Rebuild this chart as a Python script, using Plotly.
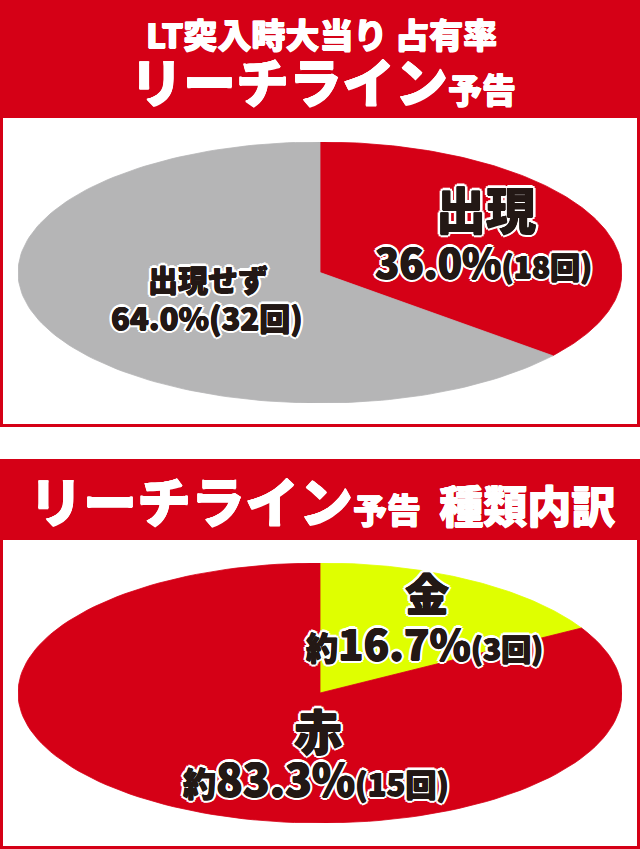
import numpy as np
import plotly.graph_objects as go

W, H = 640, 849
RED = "#D50016"
GREY = "#B5B5B6"
GOLD = "#DFFF00"
INK = "#231815"
FONT = "Noto Sans CJK JP"

# data
reach_labels = ["出現", "出現せず"]
reach_counts = [18, 32]
reach_pcts = ["36.0%", "64.0%"]
type_labels = ["金", "赤"]
type_counts = [3, 15]
type_pcts = ["16.7%", "83.3%"]


def heavy(color, outline=None):
    # fake a black weight with tiny same-colour shadows, then an optional outline
    s = [f"{dx}px {dy}px 0 {color}" for dx, dy in [(0.6, 0), (-0.6, 0), (0, 0.5), (0, -0.5)]]
    if outline:
        s += [f"{dx}px {dy}px 0 {outline}"
              for dx, dy in [(3, 0), (-3, 0), (0, 3), (0, -3), (2, 2), (-2, -2), (2, -2), (-2, 2)]]
    return ", ".join(s)


def pie_traces(counts, colors, xa, ya):
    # slices clockwise from 12 o'clock on a unit circle; axis domains squash it into an ellipse
    fr = np.cumsum([0] + counts) / sum(counts)
    out = []
    for i, c in enumerate(colors):
        t = 2 * np.pi * np.linspace(fr[i], fr[i + 1], 150)
        x = np.concatenate([[0], np.sin(t), [0]])
        y = np.concatenate([[0], np.cos(t), [0]])
        out.append(
            go.Scatter(
                x=x, y=y, mode="lines", fill="toself", fillcolor=c,
                line=dict(width=0.8, color=c), hoverinfo="skip",
                xaxis=xa, yaxis=ya, showlegend=False,
            )
        )
    return out


def label(x, y, text, size, color=INK, shadow=None):
    return dict(
        x=x / W, y=1 - y / H, xref="paper", yref="paper", text=text,
        showarrow=False, xanchor="center", yanchor="middle",
        font=dict(family=FONT, size=size, color=color, weight=900,
                  shadow=shadow or heavy(INK, "#fff")),
    )


def span(text, size):
    return f'<span style="font-size:{size}px">{text}</span>'


def box(y0, y1, y_head, b=3):
    return [
        dict(type="rect", xref="paper", yref="paper", x0=0, x1=1,
             y0=1 - y1 / H, y1=1 - y0 / H, fillcolor=RED, line_width=0, layer="below"),
        dict(type="rect", xref="paper", yref="paper", x0=b / W, x1=1 - b / W,
             y0=1 - (y1 - b) / H, y1=1 - y_head / H, fillcolor="white", line_width=0, layer="below"),
    ]


fig = go.Figure(
    data=pie_traces(reach_counts, [RED, GREY], "x", "y")
    + pie_traces(type_counts, [GOLD, RED], "x2", "y2")
)

WHITE = heavy("#fff")
ax = dict(range=[-1, 1], visible=False, fixedrange=True)
fig.update_layout(
    width=W, height=H,
    margin=dict(l=0, r=0, t=0, b=0),
    paper_bgcolor="white", plot_bgcolor="rgba(0,0,0,0)",
    xaxis=dict(domain=[18 / W, 622 / W], **ax),
    yaxis=dict(domain=[1 - 403 / H, 1 - 142 / H], **ax),
    xaxis2=dict(domain=[18 / W, 622 / W], anchor="y2", **ax),
    yaxis2=dict(domain=[1 - 823 / H, 1 - 563 / H], anchor="x2", **ax),
    shapes=box(0, 427, 118) + box(459, 849, 540),
    annotations=[
        label(321, 34, "LT突入時大当り 占有率", 34, "white", WHITE),
        label(323, 80, span("リーチライン", 53) + span("予告", 34), 53, "white", WHITE),
        label(322, 500, span("リーチライン", 54) + span("予告", 34) + span("  ", 40) + span("種類内訳", 44),
              54, "white", WHITE),
        label(486, 207, reach_labels[0], 50),
        label(483, 261, span(reach_pcts[0], 40) + span(f"({reach_counts[0]}回)", 30), 40),
        label(208, 278, reach_labels[1], 30),
        label(207, 316, reach_pcts[1] + f"({reach_counts[1]}回)", 31),
        label(427, 592, type_labels[0], 44),
        label(424, 641, span("約", 32) + span(type_pcts[0], 42) + span(f"({type_counts[0]}回)", 30), 42),
        label(318, 729, type_labels[1], 48),
        label(316, 777, span("約", 33) + span(type_pcts[1], 44) + span(f"({type_counts[1]}回)", 31), 44),
    ],
)

fig.write_html(
    "out.html",
    config={"displayModeBar": False},
    post_script="document.body.style.margin='0';",
)
